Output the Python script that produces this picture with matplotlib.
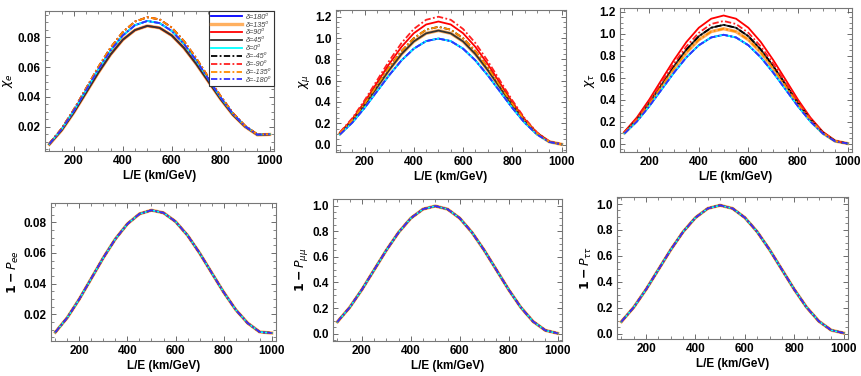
import matplotlib
matplotlib.use('Agg')
import matplotlib.pyplot as plt
from matplotlib.ticker import MultipleLocator

plt.rcParams['font.family'] = ['Liberation Sans', 'DejaVu Sans']
plt.rcParams['mathtext.fontset'] = 'dejavusans'

# L/E sample points (km/GeV)
LE = [100, 150, 200, 250, 300, 350, 400, 450, 500, 550,
      600, 650, 700, 750, 800, 850, 900, 950, 1000]

# chi_e : three visible bands
chi_e_low = [0.0082, 0.0176, 0.0296, 0.0429, 0.0563, 0.0685, 0.0784, 0.0849, 0.0877, 0.0864,
             0.0813, 0.0729, 0.0622, 0.0503, 0.0385, 0.0280, 0.0200, 0.0145, 0.0148]
chi_e_mid = [0.0085, 0.0183, 0.0308, 0.0446, 0.0585, 0.0711, 0.0813, 0.0882, 0.0910, 0.0896,
             0.0843, 0.0756, 0.0644, 0.0520, 0.0396, 0.0287, 0.0203, 0.0147, 0.0150]
chi_e_high = [0.0087, 0.0188, 0.0316, 0.0458, 0.0601, 0.0731, 0.0836, 0.0906, 0.0935, 0.0921,
              0.0866, 0.0775, 0.0660, 0.0532, 0.0405, 0.0292, 0.0206, 0.0148, 0.0150]

# chi_mu : five visible bands
chi_mu_120 = [0.115, 0.247, 0.415, 0.600, 0.785, 0.953, 1.085, 1.171, 1.200, 1.171,
              1.085, 0.953, 0.785, 0.600, 0.415, 0.247, 0.115, 0.029, 0.002]
chi_mu_115 = [0.110, 0.238, 0.399, 0.578, 0.756, 0.917, 1.045, 1.127, 1.155, 1.127,
              1.045, 0.917, 0.756, 0.578, 0.399, 0.238, 0.110, 0.028, 0.002]
chi_mu_110 = [0.106, 0.228, 0.382, 0.553, 0.723, 0.877, 0.999, 1.078, 1.105, 1.078,
              0.999, 0.877, 0.723, 0.553, 0.382, 0.228, 0.106, 0.027, 0.002]
chi_mu_107 = [0.102, 0.221, 0.370, 0.535, 0.700, 0.849, 0.968, 1.044, 1.070, 1.044,
              0.968, 0.849, 0.700, 0.535, 0.370, 0.221, 0.102, 0.026, 0.002]
chi_mu_100 = [0.095, 0.205, 0.344, 0.498, 0.651, 0.790, 0.900, 0.971, 0.995, 0.971,
              0.900, 0.790, 0.651, 0.498, 0.344, 0.205, 0.095, 0.024, 0.002]

# chi_tau : five visible bands
chi_tau_117 = [0.111, 0.240, 0.402, 0.583, 0.762, 0.925, 1.054, 1.136, 1.165, 1.136,
               1.054, 0.925, 0.762, 0.583, 0.402, 0.240, 0.111, 0.029, 0.004]
chi_tau_112 = [0.106, 0.230, 0.385, 0.558, 0.730, 0.885, 1.008, 1.088, 1.115, 1.088,
               1.008, 0.885, 0.730, 0.558, 0.385, 0.230, 0.106, 0.027, 0.004]
chi_tau_108 = [0.103, 0.223, 0.373, 0.540, 0.707, 0.857, 0.977, 1.054, 1.080, 1.054,
               0.977, 0.857, 0.707, 0.540, 0.373, 0.223, 0.103, 0.026, 0.004]
chi_tau_105 = [0.100, 0.215, 0.361, 0.523, 0.684, 0.830, 0.945, 1.019, 1.045, 1.019,
               0.945, 0.830, 0.684, 0.523, 0.361, 0.215, 0.100, 0.026, 0.004]
chi_tau_099 = [0.095, 0.204, 0.342, 0.495, 0.648, 0.786, 0.895, 0.966, 0.990, 0.966,
               0.895, 0.786, 0.648, 0.495, 0.342, 0.204, 0.095, 0.024, 0.004]

# survival probabilities (all delta curves coincide)
p_ee = [0.0083, 0.0179, 0.0300, 0.0435, 0.0570, 0.0692, 0.0790, 0.0855, 0.0879, 0.0862,
        0.0805, 0.0715, 0.0600, 0.0472, 0.0345, 0.0231, 0.0143, 0.0085, 0.0078]
p_mumu = [0.093, 0.205, 0.344, 0.498, 0.652, 0.791, 0.902, 0.973, 0.997, 0.973,
          0.902, 0.791, 0.652, 0.498, 0.344, 0.205, 0.095, 0.026, 0.003]
p_tautau = [0.093, 0.204, 0.342, 0.495, 0.648, 0.786, 0.895, 0.966, 0.990, 0.966,
            0.895, 0.786, 0.648, 0.495, 0.342, 0.204, 0.096, 0.027, 0.005]

deltas = ['180', '135', '90', '45', '0', '-45', '-90', '-135', '-180']
dd = (0, (3.5, 1.3, 1, 1.3))
styles = [
    dict(color='#0000ff', ls='-', lw=1.3),
    dict(color='#ffb060', ls='-', lw=2.4),
    dict(color='#ff0000', ls='-', lw=1.3),
    dict(color='#333333', ls='-', lw=1.3),
    dict(color='#00ffff', ls='-', lw=1.3),
    dict(color='#000000', ls=dd, lw=1.3),
    dict(color='#ff2020', ls=dd, lw=1.3),
    dict(color='#ff8c00', ls=dd, lw=1.3),
    dict(color='#3030ff', ls=dd, lw=1.3),
]

# which band each delta sits on
chi_e_sets = [chi_e_mid, chi_e_low, chi_e_low, chi_e_low, chi_e_mid,
              chi_e_high, chi_e_high, chi_e_high, chi_e_mid]
chi_mu_sets = [chi_mu_100, chi_mu_107, chi_mu_115, chi_mu_107, chi_mu_100,
               chi_mu_110, chi_mu_120, chi_mu_110, chi_mu_100]
chi_tau_sets = [chi_tau_099, chi_tau_105, chi_tau_117, chi_tau_108, chi_tau_099,
                chi_tau_108, chi_tau_112, chi_tau_105, chi_tau_099]

W, H = 861, 376
fig = plt.figure(figsize=(W / 100, H / 100), dpi=100)


def make_ax(l, r, t, b):
    return fig.add_axes([l / W, 1 - b / H, (r - l) / W, (b - t) / H])


def style_ax(ax, ylim, ymaj, ymin, fmt, ylabel):
    ax.set_xlim(82, 1018)
    ax.set_ylim(*ylim)
    ax.set_xticks([200, 400, 600, 800, 1000])
    ax.xaxis.set_minor_locator(MultipleLocator(50))
    ax.yaxis.set_major_locator(MultipleLocator(ymaj))
    ax.yaxis.set_minor_locator(MultipleLocator(ymin))
    ax.yaxis.set_major_formatter(plt.FormatStrFormatter(fmt))
    ax.tick_params(which='both', direction='in', top=True, right=True,
                   color='#555555', labelsize=8.5, pad=3)
    ax.tick_params(which='major', length=3.5, width=0.6)
    ax.tick_params(which='minor', length=2, width=0.5)
    for lab in ax.get_xticklabels() + ax.get_yticklabels():
        lab.set_fontweight('bold')
    for s in ax.spines.values():
        s.set_color('#777777')
        s.set_linewidth(0.8)
    ax.set_xlabel('L/E (km/GeV)', fontsize=8.5, fontweight='bold', labelpad=2)
    ax.set_ylabel(ylabel, fontsize=9, labelpad=2)


panels = [
    ((45, 274, 11, 151), chi_e_sets, (0.0037, 0.0977), 0.02, 0.005, '%.2f', r'$\chi_e$'),
    ((335.5, 566, 10, 152), chi_mu_sets, (-0.07, 1.263), 0.2, 0.05, '%.1f', r'$\chi_\mu$'),
    ((620, 852, 8, 152), chi_tau_sets, (-0.073, 1.233), 0.2, 0.05, '%.1f', r'$\chi_\tau$'),
    ((51, 276, 203, 341), [p_ee] * 9, (0.0026, 0.0926), 0.02, 0.005, '%.2f', r'$\mathbf{1-}P_{ee}$'),
    ((333, 562, 199, 341), [p_mumu] * 9, (-0.057, 1.052), 0.2, 0.05, '%.1f', r'$\mathbf{1-}P_{\mu\mu}$'),
    ((617, 848, 197, 339), [p_tautau] * 9, (-0.041, 1.054), 0.2, 0.05, '%.1f', r'$\mathbf{1-}P_{\tau\tau}$'),
]

for i, (box, sets, ylim, ymaj, ymin, fmt, ylabel) in enumerate(panels):
    ax = make_ax(*box)
    for d, st, ys in zip(deltas, styles, sets):
        ax.plot(LE, ys, label='δ=' + d + '⁰', **st)
    style_ax(ax, ylim, ymaj, ymin, fmt, ylabel)
    if i == 0:
        leg = ax.legend(loc='upper right', fontsize=5.2, handlelength=4.2,
                        labelspacing=0.12, borderpad=0.35, handletextpad=0.6,
                        borderaxespad=0.0, fancybox=False, framealpha=1)
        leg.get_frame().set_edgecolor('#333333')
        leg.get_frame().set_linewidth(0.8)
        for t in leg.get_texts():
            t.set_color('#444444')
            t.set_fontstyle('italic')

fig.savefig('out.png', dpi=100)
